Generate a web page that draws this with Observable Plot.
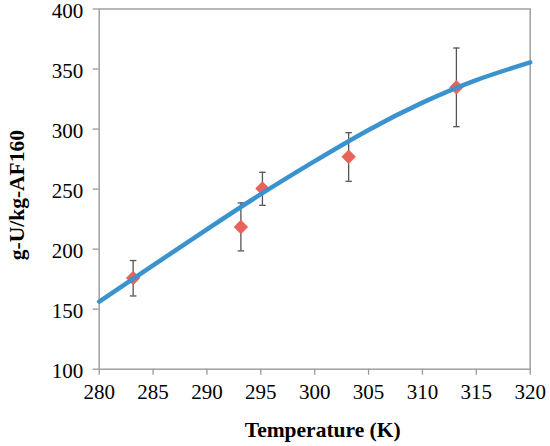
<!DOCTYPE html>
<html>
<head>
<meta charset="utf-8">
<script src="https://cdn.jsdelivr.net/npm/d3@7"></script>
<script src="https://cdn.jsdelivr.net/npm/@observablehq/plot@0.6"></script>
<style>
  html, body { margin: 0; padding: 0; background: #fff; }
  #chart svg { display: block; }
</style>
</head>
<body>
<div id="chart"></div>
<script>
// Measured data points
const temps = [283.15, 293.15, 295.15, 303.15, 313.15];
const values = [176, 218.5, 250.5, 277, 334.8];
const errLow = [161, 198.5, 236.5, 256.5, 302];
const errHigh = [190.5, 238.5, 264, 297, 367.5];

// Model curve
const curveT = [280, 285, 290, 295, 300, 305, 310, 315, 320];
const curveV = [156.3, 186.5, 216.5, 245.8, 273.3, 299.3, 322, 340.8, 355.5];

const xTicks = [280, 285, 290, 295, 300, 305, 310, 315, 320];
const yTicks = [100, 150, 200, 250, 300, 350, 400];

const points = temps.map((t, i) => ({t, v: values[i], lo: errLow[i], hi: errHigh[i]}));
const curve = curveT.map((t, i) => ({t, v: curveV[i]}));

const font = "Liberation Serif";
const capHalf = 0.3;

const chart = Plot.plot({
  width: 550,
  height: 446,
  marginLeft: 98.7,
  marginRight: 20.3,
  marginTop: 8.5,
  marginBottom: 77.3,
  style: {fontFamily: font, background: "#fff", overflow: "visible"},
  x: {domain: [280, 320]},
  y: {domain: [100, 400]},
  marks: [
    // tick lines
    Plot.axisX({ticks: xTicks, tickSize: 6, tickFormat: () => "", stroke: "#999", strokeWidth: 1.3, label: null}),
    Plot.axisY({ticks: yTicks, tickSize: 6, tickFormat: () => "", stroke: "#999", strokeWidth: 1.3, label: null}),
    // tick labels
    Plot.text(xTicks, {x: d => d, text: d => String(d), frameAnchor: "bottom", textAnchor: "middle", lineAnchor: "top", dy: 15, fontSize: 21, fontFamily: font, fill: "#000"}),
    Plot.text(yTicks, {y: d => d, text: d => String(d), frameAnchor: "left", textAnchor: "end", lineAnchor: "middle", dx: -16, dy: 2.5, fontSize: 21, fontFamily: font, fill: "#000"}),
    Plot.frame({stroke: "#a0a0a0", strokeWidth: 1.5}),
    Plot.ruleX(points, {x: "t", y1: "lo", y2: "hi", stroke: "#555", strokeWidth: 1.3}),
    Plot.link(points, {x1: d => d.t - capHalf, x2: d => d.t + capHalf, y1: "lo", y2: "lo", stroke: "#555", strokeWidth: 1.3}),
    Plot.link(points, {x1: d => d.t - capHalf, x2: d => d.t + capHalf, y1: "hi", y2: "hi", stroke: "#555", strokeWidth: 1.3}),
    Plot.dot(points, {x: "t", y: "v", symbol: "diamond2", r: 6.5, fill: "#e8635a", stroke: "none"}),
    Plot.line(curve, {x: "t", y: "v", curve: "natural", stroke: "#3a93cf", strokeWidth: 4.5}),
    Plot.text(["Temperature (K)"], {frameAnchor: "bottom", textAnchor: "middle", lineAnchor: "middle", dy: 61, dx: 8, fontSize: 21.5, fontWeight: "bold", fontFamily: font, fill: "#000"}),
    Plot.text(["g-U/kg-AF160"], {frameAnchor: "left", textAnchor: "middle", lineAnchor: "middle", dx: -82, dy: 6, rotate: -90, fontSize: 21.5, fontWeight: "bold", fontFamily: font, fill: "#000"})
  ]
});
document.getElementById("chart").appendChild(chart);
</script>
</body>
</html>
